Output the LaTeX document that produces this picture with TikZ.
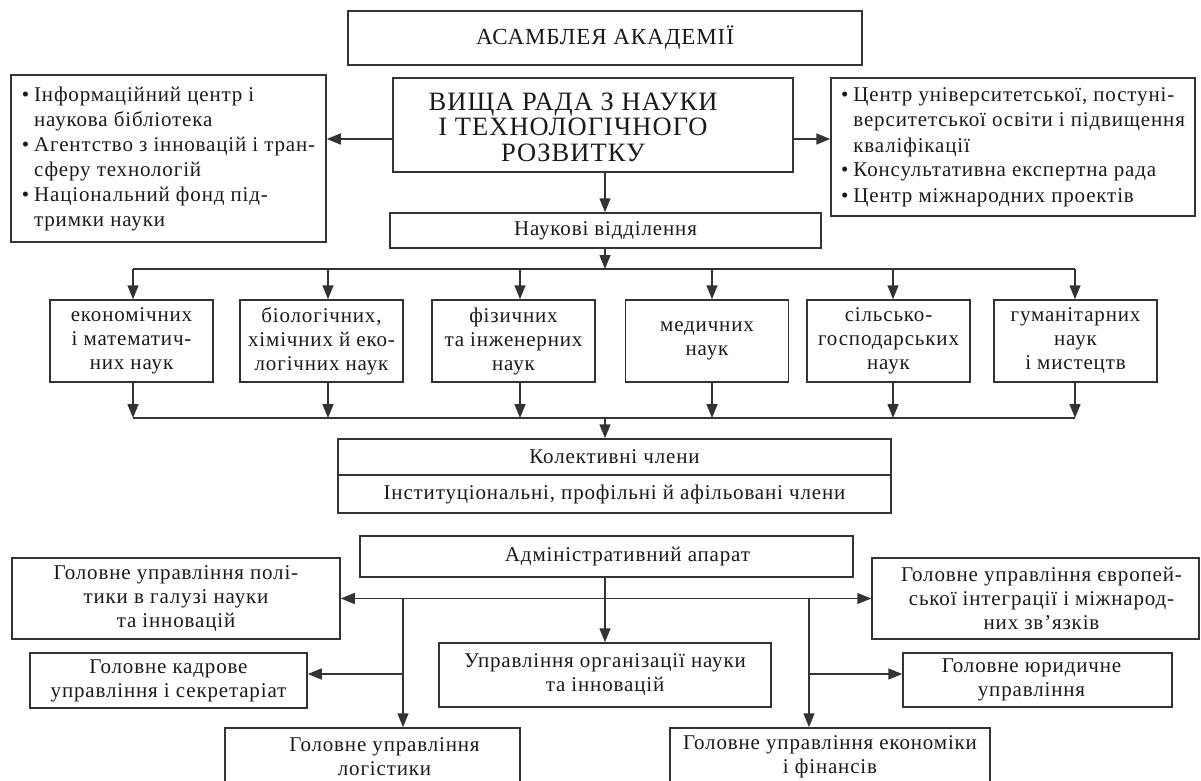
\documentclass[tikz,border=0pt]{standalone}
\usepackage{fontspec}
\setmainfont{Liberation Serif}[LetterSpace=4]
\usetikzlibrary{arrows.meta}
\newcommand\myfs{\fontsize{21}{24}\selectfont}
\newcommand\mylist{\fontsize{21}{25}\selectfont}
\newcommand\mybig{\fontsize{26.5}{25.5}\selectfont}
\newcommand\mytitle{\fontsize{23}{25}\selectfont}
\begin{document}
\begin{tikzpicture}[x=1pt,y=-1pt,
  box/.style={draw=black!80, line width=1.5pt, align=center, inner sep=0pt, font=\myfs, text=black!90},
  txt/.style={align=center, inner sep=0pt, font=\myfs, text=black!90},
  arr/.style={-{Triangle[length=14pt,width=11pt]}, line width=1.5pt, draw=black!80},
  darr/.style={{Triangle[length=14pt,width=11pt]}-{Triangle[length=14pt,width=11pt]}, line width=1.5pt, draw=black!80},
  ln/.style={line width=1.5pt, draw=black!80}]
\useasboundingbox (0,0) rectangle (1201,781);
\clip (0,0) rectangle (1201,781);
% top part
\node[box, font=\mytitle, minimum width=514pt, minimum height=54pt] (asm) at (605,38) {АСАМБЛЕЯ АКАДЕМІЇ};
\node[box, minimum width=400pt, minimum height=94pt] (vr) at (593,125) {};
\node[txt, font=\mybig] (vrt) at ([xshift=-20pt,yshift=-2pt]vr.center) {ВИЩА РАДА З НАУКИ\\І ТЕХНОЛОГІЧНОГО\\РОЗВИТКУ};
\node[box, font=\mylist, minimum width=315pt, minimum height=167pt] (lb) at (168.5,158.5) {\begin{tabular}{@{}l@{\hspace{5pt}}l@{}}\textbullet & Інформаційний центр і\\ & наукова бібліотека\\ \textbullet & Агентство з інновацій і тран-\\ & сферу технологій\\ \textbullet & Національний фонд під-\\ & тримки науки\end{tabular}};
\node[box, font=\mylist, minimum width=364pt, minimum height=138pt] (rb) at (1013,147) {\begin{tabular}{@{}l@{\hspace{5pt}}l@{}}\textbullet & Центр університетської, постуні-\\ & верситетської освіти і підвищення\\ & кваліфікації\\ \textbullet & Консультативна експертна рада\\ \textbullet & Центр міжнародних проектів\end{tabular}};
\node[box, minimum width=431pt, minimum height=35pt] (nv) at (605.5,230.5) {Наукові відділення};
\coordinate (la) at (0,139);
\draw[arr] (vr.west |- la) -- (lb.east |- la);
\draw[arr] (vr.east |- la) -- (rb.west |- la);
\coordinate (va) at (605,0);
\draw[arr] (vr.south -| va) -- (nv.north -| va);
% divisions
\coordinate (bt) at (605,269);
\coordinate (bb) at (605,418);
\coordinate (a1) at (133,0);
\coordinate (a2) at (328,0);
\coordinate (a3) at (520,0);
\coordinate (a4) at (712,0);
\coordinate (a5) at (893,0);
\coordinate (a6) at (1075,0);
\node[box, minimum width=163pt, minimum height=82pt] (b1) at (131.5,341) {економічних\\і математич-\\них наук};
\node[box, minimum width=163pt, minimum height=82pt] (b2) at (321.5,341) {біологічних,\\хімічних й еко-\\логічних наук};
\node[box, minimum width=163pt, minimum height=82pt] (b3) at (513.5,341) {фізичних\\та інженерних\\наук};
\node[box, minimum width=163pt, minimum height=82pt] (b4) at (707,341) {медичних\\наук};
\node[box, minimum width=163pt, minimum height=82pt] (b5) at (888.5,341) {сільсько-\\господарських\\наук};
\node[box, minimum width=163pt, minimum height=82pt] (b6) at (1075.5,341) {гуманітарних\\наук\\і мистецтв};
\draw[arr] (nv.south -| bt) -- (bt);
\draw[ln] (a1 |- bt) -- (a6 |- bt);
\draw[ln] (a1 |- bb) -- (a6 |- bb);
\foreach \i in {1,...,6}{
  \draw[arr] (a\i |- bt) -- (b\i.north -| a\i);
  \draw[arr] (b\i.south -| a\i) -- (a\i |- bb);
}
\node[box, minimum width=553pt, minimum height=36pt] (kol1) at (614.5,457) {Колективні члени};
\node[box, minimum width=553pt, minimum height=38pt] (kol2) at (614.5,494) {Інституціональні, профільні й афільовані члени};
\draw[arr] (bb) -- (kol1.north -| bb);
% administration
\node[box, minimum width=493pt, minimum height=41pt] (adm) at (606.5,556.5) {};
\node[txt] (admt) at ([xshift=21pt]adm.center) {Адміністративний апарат};
\node[box, minimum width=328pt, minimum height=81pt] (lb2) at (176,598.5) {Головне управління полі-\\тики в галузі науки\\та інновацій};
\node[box, minimum width=327pt, minimum height=81pt] (rb2) at (1035.5,598.5) {};
\node[txt] (rb2t) at ([xshift=6pt]rb2.center) {Головне управління європей-\\ської інтеграції і міжнарод-\\них зв’язків};
\node[box, minimum width=332pt, minimum height=64pt] (upr) at (605,675) {Управління організації науки\\та інновацій};
\node[box, minimum width=277pt, minimum height=55pt] (kadr) at (168.5,680.5) {Головне кадрове\\управління і секретаріат};
\node[box, minimum width=269pt, minimum height=54pt] (yur) at (1037.5,680) {};
\node[txt] (yurt) at ([xshift=-6pt]yur.center) {Головне юридичне\\управління};
\node[box, minimum width=295pt, minimum height=58pt] (logi) at (372.5,757) {};
\node[txt] (logit) at ([xshift=12pt]logi.center) {Головне управління\\логістики};
\node[box, minimum width=320pt, minimum height=58pt] (econ) at (830,757) {Головне управління економіки\\і фінансів};
\draw[darr] (lb2.east) -- (rb2.west);
\draw[arr] (adm.south -| va) -- (upr.north -| va);
\coordinate (vl) at (403,598.5);
\coordinate (vm) at (809,598.5);
\coordinate (kb) at (403,674);
\coordinate (yb) at (809,674);
\draw[arr] (vl) -- (vl |- logi.north);
\draw[arr] (kb) -- (kb -| kadr.east);
\draw[arr] (vm) -- (vm |- econ.north);
\draw[arr] (yb) -- (yb -| yur.west);
\end{tikzpicture}
\end{document}
